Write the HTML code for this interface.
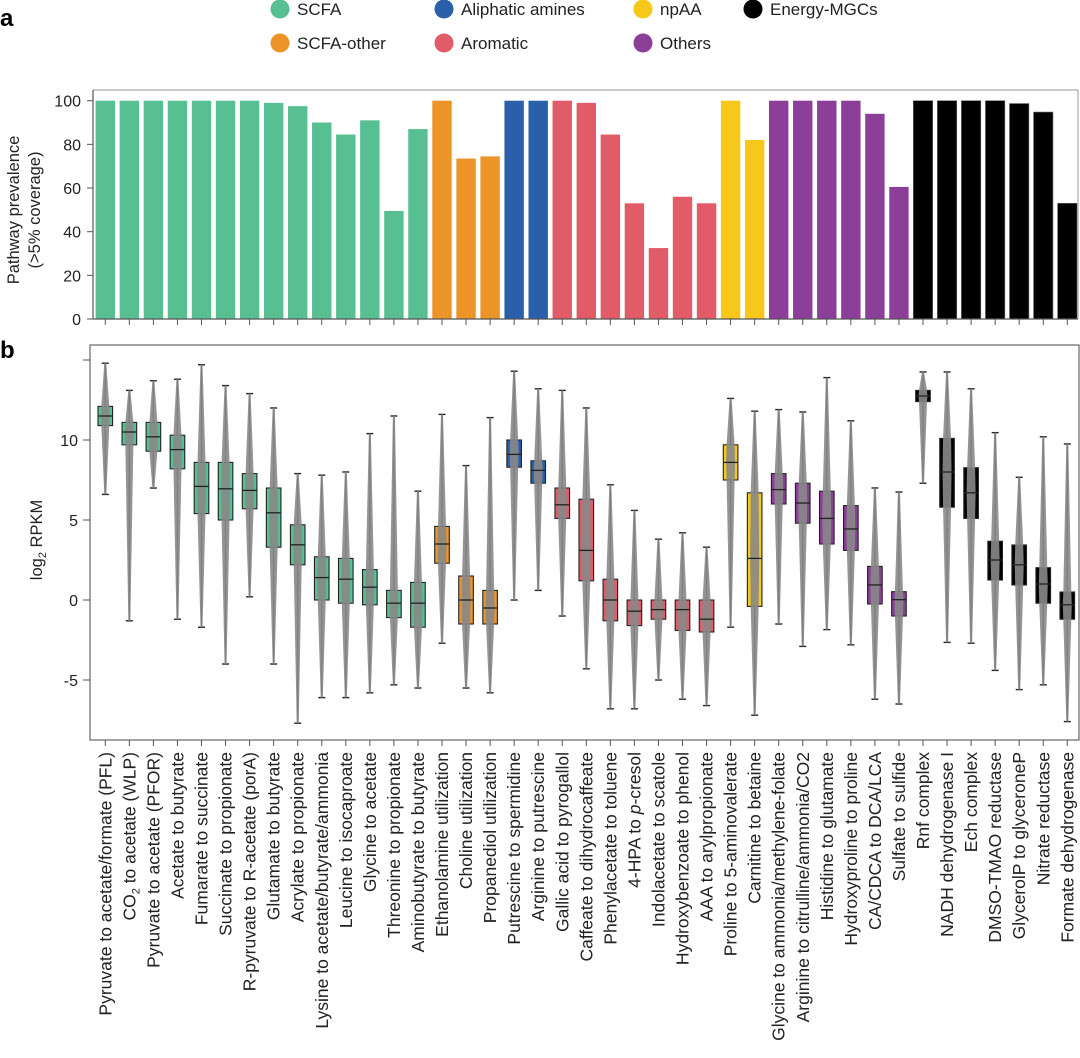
<!DOCTYPE html>
<html><head><meta charset="utf-8"><style>
body{margin:0;background:#fff;}
svg{display:block;font-family:"Liberation Sans",sans-serif;}
</style></head><body>
<svg id="chart" width="1080" height="1058" viewBox="0 0 1080 1058">
<text x="0" y="26" font-size="24" font-weight="bold">a</text>
<text x="0" y="358" font-size="24" font-weight="bold">b</text>
<g id="legend"></g>
<g id="pa"></g>
<g id="pb"></g>
<g id="xl"></g>
<text transform="translate(19,210) rotate(-90)" text-anchor="middle" font-size="16.5" fill="#222">Pathway prevalence</text>
<text transform="translate(40,210) rotate(-90)" text-anchor="middle" font-size="16.5" fill="#222">(&gt;5% coverage)</text>
<text transform="translate(42,540) rotate(-90)" text-anchor="middle" font-size="16.5" fill="#222">log<tspan font-size="11" dy="4">2</tspan><tspan dy="-4"> RPKM</tspan></text>
</svg>
<script>
const categories=["Pyruvate to acetate/formate (PFL)","CO2 to acetate (WLP)","Pyruvate to acetate (PFOR)","Acetate to butyrate","Fumarate to succinate","Succinate to propionate","R-pyruvate to R-acetate (porA)","Glutamate to butyrate","Acrylate to propionate","Lysine to acetate/butyrate/ammonia","Leucine to isocaproate","Glycine to acetate","Threonine to propionate","Aminobutyrate to butyrate","Ethanolamine utilization","Choline utilization","Propanediol utilization","Putrescine to spermidine","Arginine to putrescine","Gallic acid to pyrogallol","Caffeate to dihydrocaffeate","Phenylacetate to toluene","4-HPA to p-cresol","Indolacetate to scatole","Hydroxybenzoate to phenol","AAA to arylpropionate","Proline to 5-aminovalerate","Carnitine to betaine","Glycine to ammonia/methylene-folate","Arginine to citrulline/ammonia/CO2","Histidine to glutamate","Hydroxyproline to proline","CA/CDCA to DCA/LCA","Sulfate to sulfide","Rnf complex","NADH dehydrogenase I","Ech complex","DMSO-TMAO reductase","GlycerolP to glyceroneP","Nitrate reductase","Formate dehydrogenase"];
const groups=["SCFA","SCFA","SCFA","SCFA","SCFA","SCFA","SCFA","SCFA","SCFA","SCFA","SCFA","SCFA","SCFA","SCFA","SCFA-other","SCFA-other","SCFA-other","Aliphatic amines","Aliphatic amines","Aromatic","Aromatic","Aromatic","Aromatic","Aromatic","Aromatic","Aromatic","npAA","npAA","Others","Others","Others","Others","Others","Others","Energy-MGCs","Energy-MGCs","Energy-MGCs","Energy-MGCs","Energy-MGCs","Energy-MGCs","Energy-MGCs"];
const prevalence=[100,100,100,100,100,100,100,99,97.5,90,84.5,91,49.5,87,100,73.5,74.5,100,100,100,99,84.5,53,32.5,56,53,100,82,100,100,100,100,94,60.5,100,100,100,100,98.7,94.8,53];
const whiskerLow=[6.6,-1.3,7.0,-1.2,-1.7,-4.0,0.2,-4.0,-7.7,-6.1,-6.1,-5.8,-5.3,-5.5,-2.7,-5.5,-5.8,0.0,0.6,-1.0,-4.3,-6.8,-6.8,-5.0,-6.2,-6.6,-1.7,-7.2,-1.5,-2.9,-1.85,-2.8,-6.2,-6.5,7.3,-2.65,-2.7,-4.4,-5.6,-5.3,-7.6];
const q1=[10.9,9.7,9.3,8.2,5.4,5.0,5.7,3.3,2.2,0.0,-0.2,-0.3,-1.1,-1.7,2.3,-1.5,-1.5,8.3,7.3,5.1,1.2,-1.3,-1.6,-1.2,-1.9,-2.0,7.5,-0.4,6.0,4.8,3.5,3.1,-0.25,-1.0,12.4,5.8,5.1,1.25,0.94,-0.2,-1.2];
const medians=[11.5,10.5,10.2,9.4,7.1,6.95,6.85,5.45,3.45,1.4,1.3,0.8,-0.2,-0.2,3.5,0.0,-0.5,9.1,8.1,5.95,3.1,0.0,-0.7,-0.6,-0.6,-1.2,8.6,2.6,6.9,6.06,5.1,4.44,0.94,0.02,12.75,8.0,6.7,2.5,2.2,1.0,-0.3];
const q3=[12.1,11.1,11.1,10.3,8.6,8.6,7.9,7.0,4.7,2.7,2.6,1.9,0.6,1.1,4.6,1.5,0.6,10.0,8.7,7.0,6.3,1.3,0.0,0.0,0.0,0.0,9.7,6.7,7.9,7.3,6.8,5.9,2.1,0.52,13.1,10.1,8.27,3.67,3.44,2.02,0.5];
const whiskerHigh=[14.8,13.1,13.7,13.8,14.7,13.4,12.9,12.0,7.9,7.8,8.0,10.4,11.5,6.8,11.6,8.4,11.4,14.3,13.2,13.1,12.0,7.2,5.6,3.8,4.2,3.3,12.6,11.8,11.9,11.75,13.9,11.2,7.0,6.75,14.25,14.25,13.2,10.46,7.67,10.2,9.75];
const groupNames=["SCFA","SCFA-other","Aliphatic amines","Aromatic","npAA","Others","Energy-MGCs"];
const prevTicks=[0,20,40,60,80,100];
const rpkmTicks=[-5,0,5,10,15];
const rpkmTickLabels=["-5","0","5","10",""];

const colors={"SCFA":"#57bf91","SCFA-other":"#ec9428","Aliphatic amines":"#2a5fa9","Aromatic":"#e15c68","npAA":"#f5c81b","Others":"#8b3f98","Energy-MGCs":"#000"};
const NS="http://www.w3.org/2000/svg";
function mk(tag,attrs,parent){const e=document.createElementNS(NS,tag);for(const k in attrs)e.setAttribute(k,attrs[k]);parent.appendChild(e);return e;}
const xC=i=>105.3+24.05*i;
const yA=v=>319-2.183*v;
const yB=v=>600-16*v;

const leg=document.getElementById('legend');
const legPos=[[280,9],[280,43],[444,9],[444,43],[643,9],[643,43],[753,9]];
groupNames.forEach((g,k)=>{
  const gg=mk('g',{},leg);
  
  
  const [cx,cy]=legPos[k];
  mk('circle',{cx:cx,cy:cy,r:9.5,fill:colors[g]},gg);
  const t=mk('text',{x:cx+17,y:cy+6,'font-size':17,fill:'#222'},gg);t.textContent=g;
});

const pa=document.getElementById('pa');
const fa=mk('path',{d:'M93,90 H1078 V319',fill:'none',stroke:'#aaa','stroke-width':1.2},pa);

prevalence.forEach((v,i)=>{
  const r=mk('rect',{x:xC(i)-9.7,y:yA(v),width:19.4,height:319-yA(v),fill:colors[groups[i]],stroke:groups[i]==='Energy-MGCs'?'#666':'none','stroke-width':0.6},pa);
  
  
  mk('line',{x1:xC(i),x2:xC(i),y1:319,y2:325,stroke:'#555','stroke-width':1},pa);
});
mk('line',{x1:93,x2:93,y1:90,y2:319,stroke:'#555','stroke-width':1.2},pa);
mk('line',{x1:93,x2:1078,y1:319,y2:319,stroke:'#555','stroke-width':1.2},pa);
prevTicks.forEach(v=>{
  mk('line',{x1:87,x2:93,y1:yA(v),y2:yA(v),stroke:'#555'},pa);
  const t=mk('text',{x:81,y:yA(v)+6,'text-anchor':'end','font-size':16,fill:'#222'},pa);
  
  t.textContent=v;
});

const pb=document.getElementById('pb');
const fb=mk('rect',{x:90,y:345,width:989,height:395,fill:'none',stroke:'#666','stroke-width':1.2},pb);

rpkmTicks.forEach((v,k)=>{
  mk('line',{x1:83,x2:90,y1:yB(v),y2:yB(v),stroke:'#555'},pb);
  const t=mk('text',{x:78,y:yB(v)+6,'text-anchor':'end','font-size':16,fill:'#222'},pb);
  
  t.textContent=rpkmTickLabels[k];
});
categories.forEach((c,i)=>{
  const x=xC(i),col=colors[groups[i]];
  mk('line',{x1:x,x2:x,y1:740,y2:746,stroke:'#555'},pb);
  const g=mk('g',{},pb);
  
  
  mk('line',{x1:x,x2:x,y1:yB(whiskerHigh[i]),y2:yB(whiskerLow[i]),stroke:'#222','stroke-width':1.3},g);
  mk('line',{x1:x-3.5,x2:x+3.5,y1:yB(whiskerHigh[i]),y2:yB(whiskerHigh[i]),stroke:'#222','stroke-width':1.4},g);
  mk('line',{x1:x-3.5,x2:x+3.5,y1:yB(whiskerLow[i]),y2:yB(whiskerLow[i]),stroke:'#222','stroke-width':1.4},g);
  mk('rect',{x:x-7.3,y:yB(q3[i]),width:14.6,height:yB(q1[i])-yB(q3[i]),fill:col,stroke:'#222','stroke-width':1.1},g);
  const pts=[[1,whiskerHigh[i]],[4,q3[i]],[4.5,medians[i]],[4,q1[i]],[1,whiskerLow[i]]];
  let d='M'+pts.map(p=>(x+p[0])+','+yB(p[1])).join(' L')+' L'+pts.slice().reverse().map(p=>(x-p[0])+','+yB(p[1])).join(' L')+'Z';
  const band=mk('path',{d:d,fill:'#888',opacity:0.9},g);
  
  
  mk('line',{x1:x-7.3,x2:x+7.3,y1:yB(medians[i]),y2:yB(medians[i]),stroke:'#222','stroke-width':1.3},g);
});

const xl=document.getElementById('xl');
categories.forEach((c,i)=>{
  const t=mk('text',{transform:`translate(${xC(i)+6},752) rotate(-90)`,'text-anchor':'end','font-size':17.5,fill:'#222'},xl);
  
  
  if(c.startsWith('CO2')){
    t.innerHTML='CO<tspan font-size="11" dy="4">2</tspan><tspan dy="-4"> to acetate (WLP)</tspan>';
  }else if(c.indexOf('p-cresol')>=0){
    t.innerHTML='4-HPA to <tspan font-style="italic">p</tspan>-cresol';
  }else t.textContent=c;
});
</script>
</body></html>
